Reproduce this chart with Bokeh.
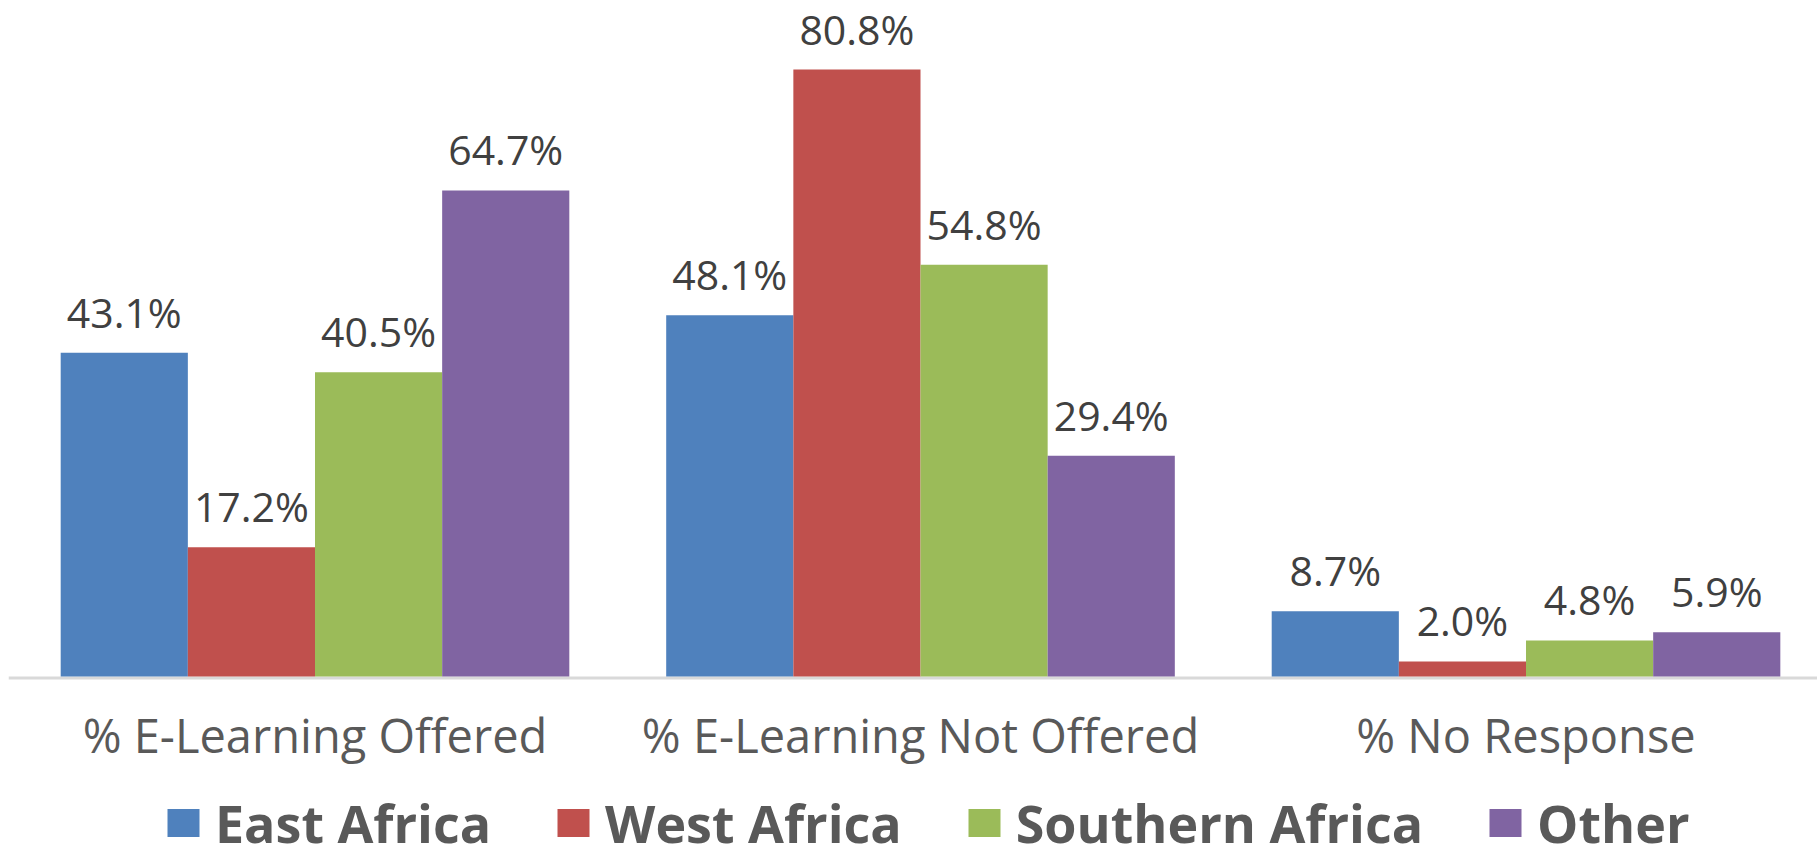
from bokeh.plotting import figure
from bokeh.models import (ColumnDataSource, LabelSet, Legend, LegendItem, Range1d, Span)
from bokeh.core.properties import value
from bokeh.transform import dodge
from bokeh.embed import file_html
from bokeh.resources import INLINE

categories = ["% E-Learning Offered", "% E-Learning Not Offered", "% No Response"]
regions = ["East Africa", "West Africa", "Southern Africa", "Other"]
east_africa = [43.1, 48.1, 8.7]
west_africa = [17.2, 80.8, 2.0]
southern_africa = [40.5, 54.8, 4.8]
other = [64.7, 29.4, 5.9]

series = [east_africa, west_africa, southern_africa, other]
colors = ["#4F81BD", "#C0504D", "#9BBB59", "#8064A2"]

BAR_W = 0.21
offsets = [-1.5 * BAR_W, -0.5 * BAR_W, 0.5 * BAR_W, 1.5 * BAR_W]

p = figure(frame_width=1809, frame_height=850, output_backend="svg", toolbar_location=None,
           x_range=Range1d(-0.5062, 2.4814), y_range=Range1d(-24.228, 88.924),
           min_border_left=8, min_border_right=0, min_border_top=8, min_border_bottom=0)
p.outline_line_color = None
p.grid.visible = False
p.xaxis.visible = False
p.yaxis.visible = False
p.background_fill_color = "white"

xs = list(range(len(categories)))

# baseline (category axis line)
p.add_layout(Span(location=-0.2, dimension="width", line_color="#D9D9D9", line_width=3,
                  level="underlay"))

items = []
for name, vals, col, off in zip(regions, series, colors, offsets):
    src = ColumnDataSource(dict(x=xs, y=vals, lbl=["%.1f%%" % v for v in vals]))
    r = p.vbar(x=dodge("x", off, range=p.x_range), top="y", bottom=0, width=BAR_W,
               source=src, fill_color=col, line_color=None)
    items.append(LegendItem(label=name, renderers=[r]))
    p.add_layout(LabelSet(x=dodge("x", off, range=p.x_range), y="y", text="lbl", source=src,
                          y_offset=25, text_align="center", text_baseline="alphabetic",
                          text_font=value("Open Sans"), text_font_size="41px",
                          text_color="#404040"))

# category labels
cat_src = ColumnDataSource(dict(x=xs, y=[0] * len(xs), name=categories))
p.add_layout(LabelSet(x="x", y="y", text="name", source=cat_src, y_offset=-77,
                      text_align="center", text_baseline="alphabetic",
                      text_font=value("Open Sans"), text_font_size="47px",
                      text_color="#595959"))

legend = Legend(items=items, orientation="horizontal", location=(155, 0),
                glyph_width=40, glyph_height=35, label_standoff=12, spacing=62,
                label_text_font="Open Sans", label_text_font_style="bold",
                label_text_font_size="52px", label_text_color="#595959",
                border_line_color=None, background_fill_alpha=0, padding=0, margin=0)
p.add_layout(legend, "center")

open("out.html", "w").write(file_html(p, INLINE))
